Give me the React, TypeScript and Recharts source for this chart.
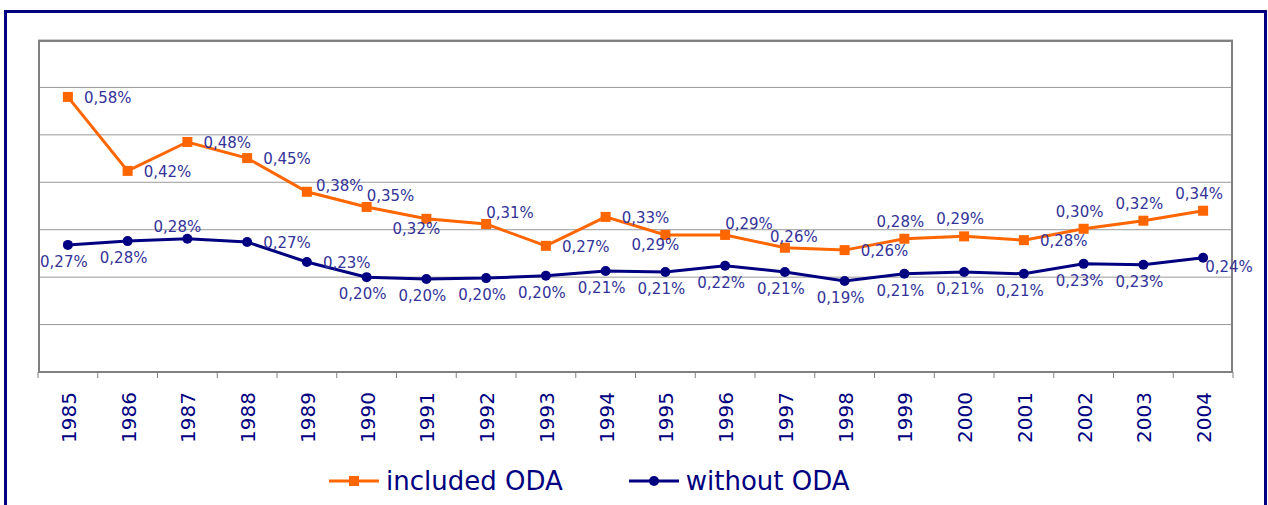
import React from "react"
import {
  CartesianGrid,
  LabelList,
  Legend,
  Line,
  LineChart,
  XAxis,
  YAxis,
} from "recharts"

const years = [
  "1985", "1986", "1987", "1988", "1989", "1990", "1991", "1992", "1993", "1994",
  "1995", "1996", "1997", "1998", "1999", "2000", "2001", "2002", "2003", "2004",
]

// share of GDP, in percent
const includedOda = [
  0.58, 0.424, 0.485, 0.451, 0.38, 0.348, 0.323, 0.312, 0.266, 0.327,
  0.289, 0.289, 0.262, 0.257, 0.281, 0.286, 0.278, 0.302, 0.319, 0.34,
]
const withoutOda = [
  0.268, 0.276, 0.281, 0.274, 0.232, 0.2, 0.196, 0.198, 0.203, 0.213,
  0.211, 0.224, 0.211, 0.192, 0.207, 0.211, 0.207, 0.228, 0.226, 0.241,
]

const yTicks = [0, 0.1, 0.2, 0.3, 0.4, 0.5, 0.6, 0.7]

// where each data label sits relative to its point
const includedPlace = [
  "right", "right", "right", "right", "rightUp", "aboveRight", "belowNear", "aboveRight", "right", "right",
  "belowNear", "aboveRight", "aboveShift", "right", "above", "above", "right", "above", "above", "above",
]
const withoutPlace = [
  "below", "below", "aboveLeft", "right", "right", "below", "below", "below", "below", "below",
  "below", "below", "below", "below", "below", "below", "below", "below", "below", "belowRight",
]

const W = 1268
const H = 505
const M = { top: 40, right: 35, left: 38, bottom: 0 }
const BAND = (W - M.left - M.right) / years.length

const ORANGE = "#FF6600"
const NAVY = "#000080"
const LABEL = "#333399"
const FONT = "DejaVu Sans, Verdana, sans-serif"

const data = years.map((year, i) => ({
  year,
  inc: includedOda[i],
  wo: withoutOda[i],
}))

const offsets: Record<string, { dx: number; dy: number; anchor: "start" | "middle" | "end" }> = {
  right: { dx: 16, dy: 1, anchor: "start" },
  rightUp: { dx: 9, dy: -6, anchor: "start" },
  aboveRight: { dx: 0, dy: -11, anchor: "start" },
  aboveShift: { dx: 9, dy: -11, anchor: "middle" },
  above: { dx: -4, dy: -17, anchor: "middle" },
  aboveLeft: { dx: -10, dy: -12, anchor: "middle" },
  below: { dx: -4, dy: 17, anchor: "middle" },
  belowNear: { dx: -10, dy: 10, anchor: "middle" },
  belowRight: { dx: 2, dy: 9, anchor: "start" },
}

const fmt = (v: number) => `${v.toFixed(2).replace(".", ",")}%`

function pointLabel(places: string[]) {
  return (p: any) => {
    const o = offsets[places[p.index]] ?? offsets.right
    return (
      <text
        x={Number(p.x) + o.dx}
        y={Number(p.y) + o.dy}
        textAnchor={o.anchor}
        dominantBaseline="central"
        fill={LABEL}
        fontSize={15}
        fontFamily={FONT}
      >
        {fmt(Number(p.value))}
      </text>
    )
  }
}

function YearTick(props: any) {
  const { x, payload, index } = props
  const axisY = H - 133
  const last = index === years.length - 1
  return (
    <g>
      <line x1={x - BAND / 2} x2={x - BAND / 2} y1={axisY} y2={axisY + 6} stroke="#808080" />
      {last && <line x1={x + BAND / 2} x2={x + BAND / 2} y1={axisY} y2={axisY + 6} stroke="#808080" />}
      <text
        x={x + 1}
        y={axisY + 20}
        transform={`rotate(-90, ${x + 1}, ${axisY + 20})`}
        textAnchor="end"
        dominantBaseline="central"
        fill={NAVY}
        fontSize={20}
        fontFamily={FONT}
      >
        {payload.value}
      </text>
    </g>
  )
}

function SquareDot(props: any) {
  const { cx, cy, index } = props
  return <rect key={`sq-${index}`} x={cx - 5} y={cy - 5} width={10} height={10} fill={ORANGE} />
}

function RoundDot(props: any) {
  const { cx, cy, index } = props
  return <circle key={`ci-${index}`} cx={cx} cy={cy} r={5} fill={NAVY} />
}

function LegendBox() {
  const item = (label: string, color: string, square: boolean) => (
    <div style={{ display: "flex", alignItems: "center" }}>
      <svg width={50} height={20}>
        <line x1={0} x2={50} y1={10} y2={10} stroke={color} strokeWidth={3} />
        {square ? (
          <rect x={20} y={5} width={10} height={10} fill={color} />
        ) : (
          <circle cx={25} cy={10} r={5} fill={color} />
        )}
      </svg>
      <span style={{ marginLeft: 7, fontSize: 26, color: NAVY, fontFamily: FONT, lineHeight: "30px" }}>
        {label}
      </span>
    </div>
  )
  return (
    <div style={{ display: "flex", gap: 66 }}>
      {item("included ODA", ORANGE, true)}
      {item("without ODA", NAVY, false)}
    </div>
  )
}

export default function App() {
  return (
    <div style={{ position: "absolute", left: 0, top: 0, width: W, height: H, overflow: "hidden", background: "#fff" }}>
      <div
        style={{
          position: "absolute",
          left: 4,
          top: 10,
          width: 1257,
          height: 520,
          border: `3px solid ${NAVY}`,
        }}
      />
      <div style={{ position: "absolute", left: 0, top: 0 }}>
        <LineChart width={W} height={H} data={data} margin={M}>
          <CartesianGrid horizontal vertical={false} stroke="#999999" />
          {/* plot frame */}
          <CartesianGrid
            horizontalPoints={[M.top + 1]}
            verticalPoints={[M.left + 1, W - M.right - 1]}
            stroke="#808080"
            strokeWidth={2}
          />
          <YAxis hide domain={[0, 0.7]} ticks={yTicks} />
          <XAxis
            dataKey="year"
            height={133}
            interval={0}
            padding={{ left: BAND / 2, right: BAND / 2 }}
            axisLine={{ stroke: "#808080", strokeWidth: 2 }}
            tickLine={false}
            tick={<YearTick />}
          />
          <Line
            dataKey="inc"
            name="included ODA"
            stroke={ORANGE}
            strokeWidth={3}
            dot={SquareDot}
            activeDot={false}
            isAnimationActive={false}
          >
            <LabelList dataKey="inc" content={pointLabel(includedPlace)} />
          </Line>
          <Line
            dataKey="wo"
            name="without ODA"
            stroke={NAVY}
            strokeWidth={3}
            dot={RoundDot}
            activeDot={false}
            isAnimationActive={false}
          >
            <LabelList dataKey="wo" content={pointLabel(withoutPlace)} />
          </Line>
          <Legend
            verticalAlign="middle"
            layout="horizontal"
            content={<LegendBox />}
            wrapperStyle={{ top: 466, left: 329, width: 600 }}
          />
        </LineChart>
      </div>
    </div>
  )
}
